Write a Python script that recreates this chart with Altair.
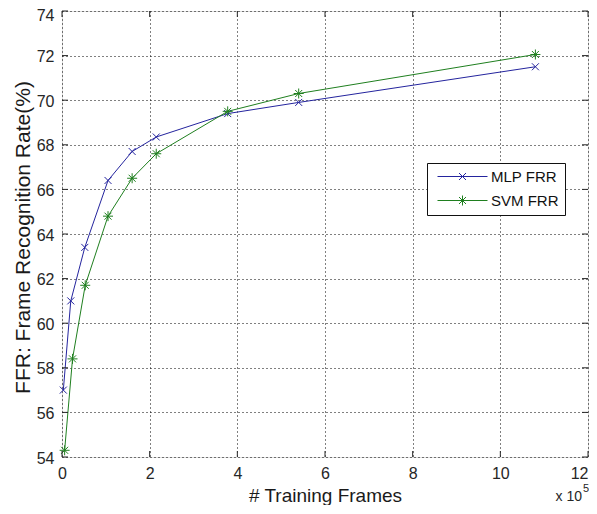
import altair as alt
import pandas as pd

series_names = ["MLP FRR", "SVM FRR"]
series_colors = ["#24249e", "#1f7f1f"]
marker_paths = [
    "M-0.7,-0.7L0.7,0.7M-0.7,0.7L0.7,-0.7",
    "M-1,0H1M0,-1V1M-0.7,-0.7L0.7,0.7M-0.7,0.7L0.7,-0.7",
]
legend_paths = ["M-5,0H5" + p for p in marker_paths]

mlp_x = [0.03, 0.20, 0.52, 1.05, 1.60, 2.15, 3.78, 5.40, 10.80]
mlp_y = [57.0, 61.0, 63.4, 66.4, 67.7, 68.35, 69.4, 69.9, 71.5]
svm_x = [0.06, 0.24, 0.53, 1.05, 1.60, 2.15, 3.78, 5.40, 10.80]
svm_y = [54.3, 58.4, 61.7, 64.8, 66.5, 67.6, 69.5, 70.3, 72.05]

x_ticks = [0, 2, 4, 6, 8, 10, 12]
y_ticks = [54, 56, 58, 60, 62, 64, 66, 68, 70, 72, 74]

W, H = 526, 446
TICK = 6
FONT = "Liberation Sans"
TXT = "#262626"

rows = []
for name, xs, ys in [(series_names[0], mlp_x, mlp_y), (series_names[1], svm_x, svm_y)]:
    for i, (xv, yv) in enumerate(zip(xs, ys)):
        rows.append({"series": name, "order": i, "x": xv, "y": yv})
df = pd.DataFrame(rows)

xscale = alt.Scale(domain=[0, 12], nice=False, zero=False)
yscale = alt.Scale(domain=[54, 74], nice=False, zero=False)

grid_kw = dict(grid=True, gridDash=[1, 3], gridColor="#000000", gridOpacity=1,
               gridWidth=1, domain=False, ticks=True, tickSize=0,
               labelFontSize=16, labelFont=FONT, labelColor=TXT,
               titleFont=FONT, titleFontWeight="normal", titleColor="#1a1a1a",
               titleBaseline="alphabetic")
xaxis = alt.Axis(values=x_ticks, labelPadding=8, title="# Training Frames",
                 labelAlign={"condition": {"test": "datum.value == 12", "value": "right"},
                             "value": "center"},
                 titleFontSize=19, titleY=44, **grid_kw)
yaxis = alt.Axis(values=y_ticks, labelPadding=8,
                 labelOffset={"condition": {"test": "datum.value == 74", "value": 4}, "value": 1},
                 title="FFR: Frame Recognition Rate(%)", titleFontSize=21,
                 titleX=-33, titleY=226, **grid_kw)

base = alt.Chart(df)
layers = []
for k, name in enumerate(series_names):
    sub = base.transform_filter(alt.datum.series == name)
    if k == 0:
        enc = dict(x=alt.X("x:Q", scale=xscale, axis=xaxis),
                   y=alt.Y("y:Q", scale=yscale, axis=yaxis))
    else:
        enc = dict(x=alt.X("x:Q", scale=xscale), y=alt.Y("y:Q", scale=yscale))
    layers.append(sub.mark_line(strokeWidth=1, color=series_colors[k]).encode(
        order="order:Q", **enc))
for k, name in enumerate(series_names):
    sub = base.transform_filter(alt.datum.series == name)
    layers.append(sub.mark_point(filled=False, strokeWidth=1, size=100, opacity=1,
                                 shape=marker_paths[k], color=series_colors[k]).encode(
        x=alt.X("x:Q", scale=xscale), y=alt.Y("y:Q", scale=yscale)))

leg_kw = dict(orient="none", legendX=365, legendY=152, title=None,
              symbolSize=100, symbolStrokeWidth=1,
              symbolFillColor="transparent", symbolOpacity=1,
              padding=6, rowPadding=8, symbolOffset=22,
              labelOffset=21, labelFont=FONT, labelFontSize=15,
              labelColor="#111111", strokeColor="#111111", fillColor="white")

# legend carrier: no marks drawn, legend built from the scales' domains
legend_layer = base.transform_filter("false").mark_point(
    filled=False, strokeWidth=1, size=100, opacity=1).encode(
    x=alt.X("x:Q", scale=xscale), y=alt.Y("y:Q", scale=yscale),
    color=alt.Color("series:N", scale=alt.Scale(domain=series_names, range=series_colors),
                    legend=alt.Legend(**leg_kw)),
    shape=alt.Shape("series:N", scale=alt.Scale(domain=series_names, range=legend_paths),
                    legend=alt.Legend(**leg_kw)),
)

xt = pd.DataFrame({"v": x_ticks})
yt = pd.DataFrame({"v": y_ticks})
tick_bottom = alt.Chart(xt).mark_rule(color=TXT, strokeWidth=1).encode(
    x=alt.X("v:Q", scale=xscale), y=alt.value(H), y2=alt.value(H - TICK))
tick_top = alt.Chart(xt).mark_rule(color=TXT, strokeWidth=1).encode(
    x=alt.X("v:Q", scale=xscale), y=alt.value(0), y2=alt.value(TICK))
tick_left = alt.Chart(yt).mark_rule(color=TXT, strokeWidth=1).encode(
    y=alt.Y("v:Q", scale=yscale), x=alt.value(0), x2=alt.value(TICK))
tick_right = alt.Chart(yt).mark_rule(color=TXT, strokeWidth=1).encode(
    y=alt.Y("v:Q", scale=yscale), x=alt.value(W), x2=alt.value(W - TICK))

exp_base = alt.Chart(pd.DataFrame({"t": ["x 10"]})).mark_text(
    align="right", baseline="alphabetic", font=FONT, fontSize=14, color=TXT
).encode(text="t:N", x=alt.value(W - 6), y=alt.value(490))
exp_sup = alt.Chart(pd.DataFrame({"t": ["5"]})).mark_text(
    align="left", baseline="alphabetic", font=FONT, fontSize=11, color=TXT
).encode(text="t:N", x=alt.value(W - 5), y=alt.value(481))

chart = alt.layer(
    *layers, legend_layer, tick_bottom, tick_top, tick_left, tick_right, exp_base, exp_sup
).properties(
    width=W, height=H,
    padding={"left": 54, "top": 3, "right": 1, "bottom": 48},
    autosize=alt.AutoSizeParams(type="none"),
).configure_view(
    stroke="#262626", strokeWidth=1
).configure(background="white")

chart.save("out.html", embed_options={"renderer": "svg", "actions": False})
